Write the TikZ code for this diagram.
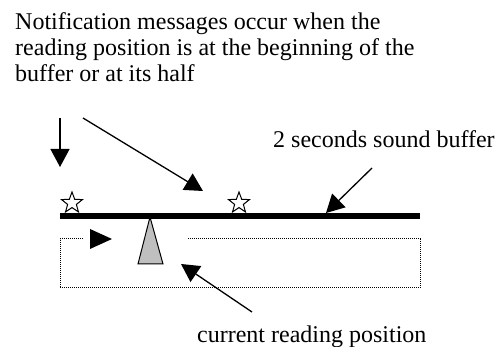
\documentclass[tikz,border=0pt]{standalone}
\usepackage{fontspec}
\setmainfont{Liberation Serif}
\usetikzlibrary{arrows.meta,shapes.geometric}

\begin{document}
\begin{tikzpicture}[x=1pt,y=-1pt,>={Triangle[length=18pt,width=19pt]},
  every node/.style={font=\fontsize{24}{26}\selectfont,inner sep=0pt},
  ptr/.style={->,line width=1.3pt},
  mark star/.style={star,star points=5,star point ratio=2.4,draw,fill=white,
    line width=1pt,minimum size=22pt}]
  % 2 s sound buffer, notify points and reading cursor
  \useasboundingbox (0,0) rectangle (498,347);
  \node[anchor=base west,align=left] (note) at (15,82)
    {Notification messages occur when the\\
     reading position is at the beginning of the\\
     buffer or at its half};
  \node[anchor=base west] (buflabel) at (273,148) {2 seconds sound buffer};
  \node[anchor=base west] (poslabel) at (197,342) {current reading position};
  \coordinate (bufL) at (60,216);
  \coordinate (bufR) at (420,216);
  \draw[line width=5.5pt] (bufL) -- (bufR);
  \node[mark star] (start) at (72,203) {};
  \node[mark star] (half) at (239,203) {};
  % loop box under the buffer
  \draw[line width=1pt,dash pattern=on 1pt off 1pt]
    (83,239) -- (60,239) -- (60,288) -- (420,288) -- (420,239) -- (187,239);
  \fill (90,229) -- (112,239) -- (90,249) -- cycle;
  \draw[fill=gray!50,line width=1pt] (150,217) -- (163,264) -- (138,264) -- cycle;
  \coordinate (cursor) at (181,264);
  % pointers
  \coordinate (t1) at (60,118);
  \coordinate (h1) at (60,167);
  \coordinate (t2) at (83,118);
  \coordinate (h2) at (203,191);
  \coordinate (t3) at (372,168);
  \coordinate (h3) at (326,213);
  \coordinate (t4) at (252,312);
  \draw[ptr] (t1) -- (h1);
  \draw[ptr] (t2) -- (h2);
  \draw[ptr] (t3) -- (h3);
  \draw[ptr] (t4) -- (cursor);
\end{tikzpicture}
\end{document}
